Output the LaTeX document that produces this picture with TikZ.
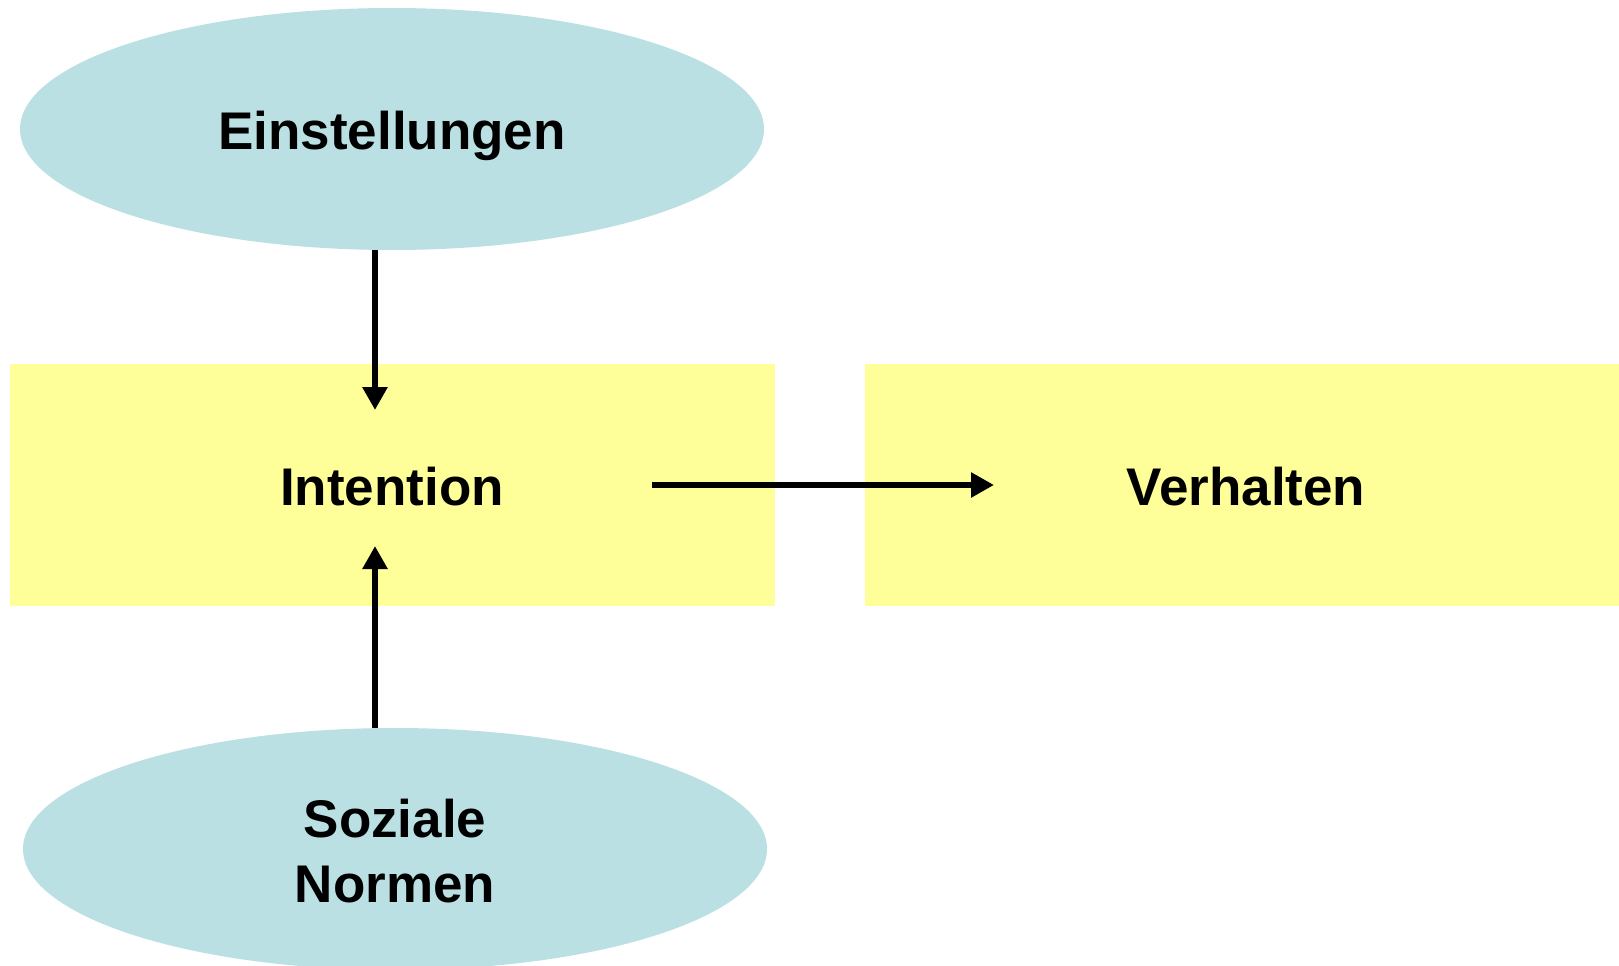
\documentclass[tikz,border=0pt]{standalone}
\usepackage{fontspec}
\setmainfont{Liberation Sans}
\usetikzlibrary{arrows.meta,shapes.geometric}
\definecolor{ovalblue}{HTML}{BAE0E3}
\definecolor{boxyellow}{HTML}{FFFF99}
\tikzset{
  labelfont/.style={font=\fontsize{26.5}{32.5}\selectfont\bfseries, align=center},
  oval/.style={ellipse, fill=ovalblue, draw=none, inner sep=0pt,
    minimum width=372pt, minimum height=121pt},
  stagebox/.style={rectangle, fill=boxyellow, draw=none, inner sep=0pt,
    minimum height=121pt},
  arr/.style={line width=3.2pt, -{Triangle[length=11.5pt,width=12pt]}}
}
\begin{document}
\begin{tikzpicture}[x=0.5pt,y=-0.5pt]
  \useasboundingbox (0,0) rectangle (1619,965);
  \clip (0,0) rectangle (1619,965);
  % attitudes and norms
  \node[oval] (einst) at (392,129) {};
  \node[labelfont] (einsttxt) at (392,136) {Einstellungen};
  \node[oval] (normen) at (395,849) {};
  \node[labelfont] (normtxt) at (395,851) {Soziale\\Normen};
  % intention and behaviour
  \node[stagebox, minimum width=382.5pt] (intention) at (392.5,485) {};
  \node[labelfont] (inttxt) at (392,487) {Intention};
  \node[stagebox, minimum width=377pt] (verhalten) at (1242,485) {};
  \node[labelfont] (vertxt) at (1246,487) {Verhalten};
  % connectors
  \coordinate (tipA) at (375,410);
  \coordinate (tipB) at (375,546);
  \coordinate (startC) at (652,485);
  \coordinate (tipC) at (994,485);
  \draw[arr] (einst.south -| tipA) -- (tipA);
  \draw[arr] (normen.north -| tipB) -- (tipB);
  \draw[arr] (startC) -- (tipC);
\end{tikzpicture}
\end{document}
